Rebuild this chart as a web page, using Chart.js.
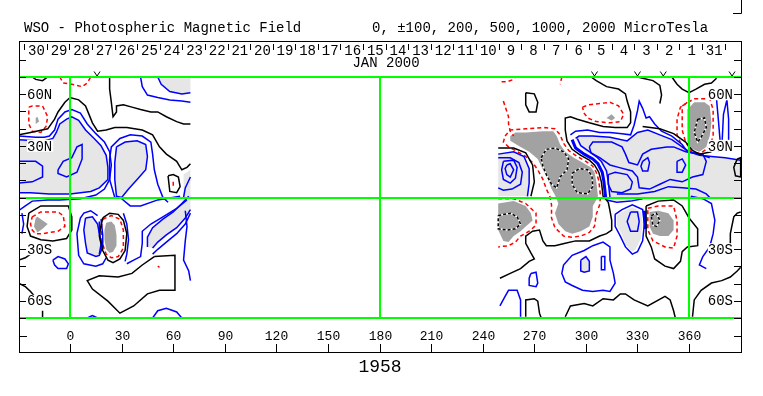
<!DOCTYPE html>
<html>
<head>
<meta charset="utf-8">
<script src="https://cdn.jsdelivr.net/npm/chart.js@4.4.1/dist/chart.umd.min.js"></script>
<style>
html, body { margin: 0; padding: 0; background: #fff; }
canvas { display: block; }
</style>
</head>
<body>
<canvas id="mycanvas" width="763" height="396"></canvas>
<script>
// texts and axis labels
var titleLeft = 'WSO - Photospheric Magnetic Field';
var titleRight = '0, \u00b1100, 200, 500, 1000, 2000 MicroTesla';
var monthLabel = 'JAN 2000';
var rotationLabel = '1958';
var lonTicks = [0, 30, 60, 90, 120, 150, 180, 210, 240, 270, 300, 330, 360];
var latTicks = [100, 85.7, 71.4, 57.1, 42.9, 28.6, 14.3, 0, -14.3, -28.6, -42.9, -57.1, -71.4, -85.7, -100];
var latLabels = ['60N', '30N', '30S', '60S'];
var latLabelPos = [85.7, 42.9, -42.9, -85.7];
var dayLabels = [30, 29, 28, 27, 26, 25, 24, 23, 22, 21, 20, 19, 18, 17, 16, 15, 14, 13, 12, 11, 10, 9, 8, 7, 6, 5, 4, 3, 2, 1, 31];
var dayEdge0 = -26.7;   // carrington longitude of first day box edge
var dayStep = 13.14;    // degrees per day
var obsMarks = [15.7, 305, 330, 345, 385];
var greenLat = [100, 0, -100];
var greenLon = [0, 180, 360];

// contours, [longitude, sine latitude %]
// west block (before the data gap)
var wTopArcBlack = [[-22,100],[-20,98],[-16,97],[-13,100]];
var wTopRed = [[-6,100],[-4,95],[1,94],[7,92],[10,95],[12,100]];
var wRedLoopN = [[-24,75],[-22,76],[-16,76],[-13,67],[-14,59],[-17,54],[-22,55],[-24,61],[-24,67]];
var wSpotN = [[-20,66],[-19,67],[-18,63],[-20,61]];
var wBlackA = [[-30,52],[-23,54],[-13,57],[-9,65],[-7,71],[-3,79],[0,83],[5,81],[9,76],[11,69],[13,62],[16,55],[21,56],[26,58],[33,58],[42,56],[48,52],[52,42],[56,36],[62,30],[65,23],[68,25],[70,28]];
var wBlackB = [[23,100],[23,90],[24,79],[25,67],[27,71],[27,76],[31,77],[36,75],[41,73],[47,71],[51,71],[56,67],[62,63],[66,61],[70,61]];
var wBlueTop1 = [[41,100],[42,92],[45,85],[51,83],[58,81],[65,80],[70,79]];
var wGrayTop = [[51,100],[53,94],[58,88],[65,86],[70,87],[70,100]];
var wGrayNw = [[-30,48],[-20,47],[-15,47],[-10,49],[-8,54],[-6,61],[-2,65],[1,67],[5,64],[9,56],[14,49],[18,43],[21,35],[22,25],[22,15],[17,8],[12,5],[0,3],[-12,3],[-23,4],[-30,4]];
var wBlueNw1 = [[-30,51],[-20,50],[-15,50],[-12,51],[-9,56],[-7,65],[-3,71],[1,73],[6,70],[10,61],[15,53],[20,46],[23,38],[24,27],[23,15],[20,7],[15,2],[6,-1],[-6,-2],[-13,-2],[-22,-3],[-26,-7],[-30,-11]];
var wBlueNw2 = [[-7,23],[-4,30],[1,33],[4,42],[7,44],[7,32],[4,21],[-2,17],[-7,20]];
var wBlueNw3 = [[-30,30],[-20,30],[-16,26],[-16,17],[-22,13],[-30,12]];
var wGrayMid = [[27,42],[32,46],[39,47],[44,44],[45,34],[44,23],[39,15],[34,7],[30,0],[27,1],[26,15],[26,29]];
var wBlueMid = [[26,0],[23,15],[23,32],[24,42],[29,49],[35,52],[42,51],[47,46],[48,36],[49,23],[51,11],[54,0],[57,-4]];
var wBlackHex = [[57,18],[60,19],[63,17],[64,9],[62,4],[58,5]];
var wRedHex = [[60,13],[60,8]];
var wGrayEdge = [[66,19],[70,23],[70,0],[66,0]];
var wBlueEdge = [[66,0],[67,8],[70,17]];
var wBlueLeftS = [[-28,-13],[-27,-22],[-28,-30]];
var wBlackSw1 = [[-24,-13],[-17,-7],[-8,-7],[-1,-7],[1,-16],[1,-27],[-2,-34],[-10,-36],[-17,-35],[-23,-32],[-25,-24]];
var wRedSw1 = [[-22,-16],[-17,-12],[-7,-12],[-4,-15],[-3,-24],[-7,-28],[-16,-30],[-20,-30],[-22,-27],[-23,-22]];
var wDarkSw1 = [[-20,-17],[-19,-16],[-13,-22],[-16,-26],[-19,-29],[-21,-24]];
var wGraySw2 = [[9,-17],[13,-16],[16,-22],[17,-30],[19,-41],[17,-48],[15,-49],[10,-46],[9,-38],[8,-27]];
var wBlueSw2 = [[16,-15],[12,-11],[8,-13],[6,-17],[4,-30],[5,-48],[8,-55],[15,-57],[19,-55],[21,-50]];
var wBlueGap1 = [[17,-20],[17,-28],[18,-39],[17,-47]];
var wBlueGap2 = [[18,-18],[19,-31],[19,-43]];
var wBlackSw3 = [[19,-17],[23,-13],[28,-14],[31,-19],[33,-30],[32,-44],[29,-51],[25,-54],[22,-52],[19,-44],[17,-32],[18,-23]];
var wRedSw3 = [[19,-18],[24,-15],[29,-18],[31,-27],[31,-42],[28,-49],[24,-50],[21,-47],[19,-39],[18,-27]];
var wDarkSw3 = [[21,-21],[24,-20],[26,-23],[27,-31],[27,-40],[25,-45],[23,-46],[21,-43],[20,-35],[20,-27]];
var wBlueSw3 = [[31,-13],[33,-22],[34,-35],[33,-47],[32,-53]];
var wGrayDiag = [[45,-41],[45,-33],[48,-25],[54,-18],[60,-12],[65,-5],[69,1],[70,2],[70,-10],[67,-17],[62,-25],[56,-31],[51,-37],[48,-42]];
var wBlueDiag1 = [[33,-55],[37,-52],[41,-49],[42,-38],[42,-28],[47,-22],[54,-16],[62,-9],[68,-2]];
var wBlueDiag2 = [[70,-13],[67,-22],[62,-30],[56,-37],[51,-43],[48,-47]];
var wBlueEqS = [[30,-1],[35,-7],[41,-7],[51,-2],[64,1]];
var wBlueEdgeS = [[67,-11],[68,-24],[67,-36],[66,-52],[69,-61],[70,-69]];
var wBlackBowl = [[49,-49],[42,-56],[36,-63],[28,-66],[17,-65],[10,-69],[13,-76],[22,-86],[29,-96],[37,-90],[45,-80],[52,-77],[61,-77],[61,-48]];
var wRedDot = [[51,-57],[52,-58]];
var wBlueLoopS = [[-10,-52],[-7,-49],[-3,-51],[-1,-55],[-2,-59],[-7,-59],[-9,-56]];
var wBlueBot1 = [[48,-100],[51,-94],[56,-92],[62,-95],[65,-100]];
var wBlueBot2 = [[10,-100],[13,-98],[16,-100]];
var wBlackEdge1 = [[-30,-52],[-26,-50],[-23,-47]];
var wBlackEdge2 = [[-30,-71],[-26,-74],[-23,-78],[-20,-83]];
var wBlackEdge3 = [[-16,-94],[-16,-100]];

// east block (after the data gap)
var eRedTop = [[251,96],[254,96],[258,98],[259,100]];
var eRedTopV = [[286,100],[285,94]];
var eRedDesc = [[252,80],[255,67],[255,61],[256,55],[258,51]];
var eBlackSmall = [[265,87],[270,86],[272,79],[271,71],[267,71],[265,77]];
var eBlackN1 = [[303,100],[306,97],[312,92],[319,90],[323,86],[324,80],[326,71],[326,62],[324,58],[317,58],[310,59],[302,62],[295,65],[291,67],[288,66],[288,56],[289,47],[292,40],[297,35],[302,31],[305,27],[307.5,21],[309,13],[310,1],[313,-4],[314,-11],[315,-19],[315,-27],[312,-30],[308,-32],[302,-36],[294,-36],[288,-38],[282,-40],[277,-40],[275,-36],[273,-27],[269,-28],[265,-32],[265,-38],[268,-46],[270,-51],[267,-53],[262,-59],[256,-63],[250,-67]];
var eBlackN3 = [[333,59],[343,57],[351,53],[358,46],[362,39],[366,36],[373,38]];
var eBlackTopA = [[330,100],[333,99],[339,97],[343,93],[344,85],[343,78]];
var eBlackTopB = [[350,100],[353,94],[356,90],[360,87],[364,90],[369,94],[373,95],[376,99]];
var eRedLoopN = [[298,75],[302,77],[308,78],[314,79],[319,76],[322,69],[320,63],[314,62],[306,63],[301,66],[299,70]];
var eSpotN = [[312,66],[315,69],[317,66],[315,64]];
var eDarkBig = [[256,51],[259,54],[265,54],[275,55],[281,55],[283,51],[285,44],[288,38],[293,33],[298,29],[303,25],[305,21],[306,14],[307,1],[306,-2],[304,-7],[304,-16],[302,-24],[297,-28],[292,-30],[288,-28],[284,-22],[282,-13],[284,-5],[282,2],[280,7],[278,15],[275,23],[272,32],[267,38],[262,42],[256,47]];
var eRedBig = [[253,51],[256,56],[265,57],[276,58],[282,57],[285,52],[287,45],[290,39],[295,34],[300,30],[304,26],[306,21],[307.5,14],[308.5,1],[308,-6],[306,-14],[305,-24],[302,-29],[297,-32],[292,-33],[287,-32],[282,-25],[280,-17],[280,-6],[279,1],[277,7],[275,15],[272,23],[269,29],[265,34],[259,39],[255,42],[252,46]];
var eDashA = [[274,33],[277,40],[282,41],[287,38],[290,32],[289,23],[285,17],[283,8],[280,11],[277,19],[275,26]];
var eDashB = [[292,20],[296,24],[301,23],[303.5,18],[304,9],[301,3],[295,4],[292,11]];
var eGrayW = [[249,36],[258,38],[264,34],[267,24],[267,12],[266,1],[249,1]];
var eBlackW = [[249,41],[258,41],[265,37],[269,27],[270,13],[268,1]];
var eBlueW1 = [[249,33],[256,33],[261,29],[263,21],[262,11],[257,7],[252,6],[249,8]];
var eBlueW2 = [[252,30],[258,31],[260,25],[259,16],[256,12],[252,15],[251,23]];
var eBlueW3 = [[254,27],[256,28],[258,23],[256,17],[254,19],[253,24]];
var eGrayC = [[294,49],[296,51],[304,51],[314,50],[324,47],[330,54],[336,56],[343,52],[350,48],[356,42],[360,38],[366,35],[373,34],[381,33],[390,31],[390,0],[314,0],[313,12],[311,22],[308,30],[305,34],[300,38],[296,44]];
var eBlueC1 = [[291,52],[294,55],[301,56],[308,54],[314,54],[321,53],[326,52],[328,60],[330,72],[331,80],[333,74],[335,66],[337,67],[340,61],[344,55],[350,51],[356,44],[359,38],[366,36],[372,33]];
var eBlueC3 = [[292,48],[294,41],[299,36],[304,32],[307,28],[309.5,21],[310.5,13],[311.5,0]];
var eBlueC4 = [[295,49],[297,43],[302,38],[306,34],[309,30],[312,22],[313,13],[314,0]];
var eBlueC5 = [[302,42],[304,46],[310,46],[315,46],[321,42],[323,36],[325,29],[330,27],[333,36],[338,40],[347,42],[351,42],[358,38],[368,36],[370,30],[368,19],[362,17],[356,13],[349,15],[343,11],[337,7],[331,8],[330,17],[327,22],[319,25],[314,27],[308,33],[303,37]];
var eBlueL1 = [[313,19],[317,21],[324,19],[327,13],[326,7],[321,4],[315,5],[313,11]];
var eBlueL2 = [[333,30],[336,33],[337,29],[336,22],[333,22],[332,26]];
var eBlueL3 = [[353,30],[356,32],[358,27],[356,21],[353,21],[353,25]];
var eBlueBot = [[318,3],[330,3],[340,5],[348,9],[356,8],[364,7],[370,3],[372,0]];
var eDarkNE = [[359,73],[363,79],[369,79],[372,76],[373,62],[372,51],[370,42],[366,38],[362,40],[359,46],[359,54],[359,65]];
var eRedNE = [[356,76],[363,82],[372,82],[374,73],[374,51],[372,42],[367,37],[362,37],[358,46],[356,56],[356,67]];
var eRedNE2 = [[359,79],[355,75],[353,65],[353,52],[356,42],[361,37]];
var eDashNE = [[365,65],[369,66],[370,58],[367,50],[365,46],[363,54]];
var eBlueNE1 = [[376,81],[377,65],[378,48],[377,38]];
var eBlueNE2 = [[379,40],[380,69],[382,81],[383,65],[383,40]];
var eBlackE = [[388,32],[390,33],[390,17],[387,18],[386,25]];
var eDarkSW = [[249,-5],[258,-3],[265,-7],[268,-13],[269,-19],[265,-24],[262,-28],[258,-32],[255,-37],[252,-36],[249,-27]];
var eDashSW = [[249,-15],[256,-13],[260,-16],[262,-22],[259,-26],[254,-27],[249,-26]];
var eRedSW = [[249,-1],[258,-1],[265,-5],[271,-13],[271,-23],[267,-28],[262,-32],[259,-37],[255,-40],[249,-41]];
var eBlueLoopS = [[287,-56],[292,-48],[299,-44],[304,-40],[310,-37],[314,-41],[314,-52],[316,-63],[317,-71],[314,-78],[310,-77],[304,-78],[298,-77],[292,-73],[288,-70],[286,-63]];
var eGrayS = [[297,-52],[300,-49],[302,-53],[302,-61],[299,-62],[297,-61]];
var eBlueSthin = [[309,-49],[311,-49],[311,-60],[309,-60]];
var eBlueSsmall = [[268,-63],[271,-62],[272,-71],[271,-74],[267,-73],[267,-67]];
var eBlueSWb = [[250,-90],[253,-82],[255,-77],[260,-77],[262,-85],[262,-99]];
var eBlackSb1 = [[265,-99],[265,-85],[270,-84],[272,-86],[273,-96],[274,-100]];
var eBlackSb2 = [[288,-99],[291,-90],[299,-88],[304,-90],[310,-84],[316,-85],[320,-80],[323,-80],[328,-85],[336,-90],[346,-82],[349,-85],[351,-94],[352,-100]];
var eBlackSE = [[335,-7],[342,-3],[351,-2],[356,-7],[360,-17],[365,-26],[365,-40],[359,-41],[356,-45],[355,-53],[351,-59],[346,-57],[340,-51],[338,-41],[335,-32],[335,-22]];
var eRedSE = [[336,-9],[342,-7],[351,-7],[353,-19],[353,-32],[351,-42],[346,-41],[339,-36],[336,-27],[336,-17]];
var eDarkSE = [[337,-12],[342,-11],[348,-13],[351,-19],[351,-27],[348,-32],[343,-32],[339,-30],[337,-24],[337,-17]];
var eDashSE = [[338,-15],[341,-13],[343,-19],[341,-24],[339,-23]];
var eGraySE = [[321,-12],[327,-8],[332,-12],[333,-22],[332,-34],[329,-43],[327,-45],[323,-39],[321,-31],[318,-23],[318,-15]];
var eBlueSE1 = [[317,-14],[321,-10],[327,-6],[333,-10],[334,-22],[333,-36],[330,-45],[327,-47],[323,-41],[320,-32],[317,-24]];
var eBlueSE2 = [[326,-12],[330,-12],[331,-20],[330,-28],[326,-28],[324,-20]];
var eBlueSEthick = [[334,-11],[334.5,-26]];
var eBlueSEright = [[361,1],[368,-1],[373,-5],[375,-19],[374,-30],[372,-41],[368,-49],[366,-56],[370,-59]];
var eBlueEqS = [[312,-2],[318,-4],[326,-3],[333,-1]];
var eBlackEr1 = [[384,-44],[384,-30],[386,-16],[388,-13],[390,-12]];
var eBlackEr2 = [[362,-99],[363,-85],[367,-77],[373,-71],[379,-69],[384,-66],[388,-61],[390,-58]];

var BLACK = '#000000', BLUE = '#0000ff', RED = '#ff0000', LIGHT = '#e6e6e6', DARK = '#a2a2a2';
var DASH = [4, 3];

var datasets = [];
function pts(a, close) {
	var out = a.map(function (p) { return { x: p[0], y: p[1] }; });
	if (close) out.push({ x: a[0][0], y: a[0][1] });
	return out;
}
function addFill(a, color, order) {
	datasets.push({ data: pts(a, true), fill: 'shape', backgroundColor: color, borderColor: 'rgba(0,0,0,0)', borderWidth: 0, pointRadius: 0, order: order });
}
function addLine(a, color, close, dash, width, order) {
	datasets.push({ data: pts(a, close), fill: false, borderColor: color, borderWidth: width || 1.5, borderDash: dash || [], pointRadius: 0, order: order === undefined ? 2 : order });
}
function addInner(a) {
	// white / black dashed inner contour
	addLine(a, '#ffffff', true, [], 1.5, 1);
	addLine(a, BLACK, true, [3, 2], 1.5, 0);
}

// light fills
[wGrayTop, wGrayNw, wGrayMid, wGrayEdge, wGraySw2, wGrayDiag, eGrayW, eGrayC, eGrayS, eGraySE].forEach(function (g) { addFill(g, LIGHT, 5); });
// dark fills
[wSpotN, wDarkSw1, wDarkSw3, eSpotN, eDarkBig, eDarkNE, eDarkSW, eDarkSE].forEach(function (g) { addFill(g, DARK, 4); });

// black contours
[wTopArcBlack, wBlackA, wBlackB, wBlackEdge1, wBlackEdge2, wBlackEdge3, eBlackN1, eBlackN3, eBlackTopA, eBlackTopB, eBlackSb1, eBlackSb2, eBlackEr1, eBlackEr2].forEach(function (l) { addLine(l, BLACK, false); });
[wBlackHex, wBlackSw1, wBlackSw3, wBlackBowl, eBlackSmall, eBlackE, eBlackSE].forEach(function (l) { addLine(l, BLACK, true); });
addLine(eBlackW, BLACK, false);

// blue contours
[wBlueTop1, wGrayTop.slice(0, 5), wGrayNw, wBlueNw1, wBlueNw3, wBlueMid, wBlueEdge, wBlueLeftS, wBlueSw2, wBlueGap1, wBlueGap2, wBlueSw3, wBlueDiag1, wBlueDiag2, wBlueEqS, wBlueEdgeS, wBlueBot1, wBlueBot2,
 eGrayW.slice(0, 6), eBlueW1, eGrayC.slice(0, 15), eBlueC1, eBlueC4, eBlueBot, eBlueNE1, eBlueNE2, eBlueSWb, eBlueSEright, eBlueEqS].forEach(function (l) { addLine(l, BLUE, false); });
addLine(wGrayDiag.slice(0, 7), BLUE, false);
addLine(wGrayDiag.slice(8), BLUE, false);
[wBlueNw2, wGrayMid, wGraySw2, wBlueLoopS, eBlueW2, eBlueW3, eBlueC5, eBlueL1, eBlueL2, eBlueL3, eBlueLoopS, eGrayS, eBlueSthin, eBlueSsmall, eBlueSE1, eBlueSE2].forEach(function (l) { addLine(l, BLUE, true); });
addLine(eBlueC3, BLUE, false, [], 3);
addLine(eBlueSEthick, BLUE, false, [], 3);

// red contours
[wTopRed, wRedHex, wRedDot, eRedTop, eRedTopV, eRedDesc, eRedNE2, eRedSW].forEach(function (l) { addLine(l, RED, false, DASH); });
[wRedLoopN, wRedSw1, wRedSw3, eRedLoopN, eRedBig, eRedNE, eRedSE].forEach(function (l) { addLine(l, RED, true, DASH); });

// inner strong-field contours
[eDashA, eDashB, eDashNE, eDashSW, eDashSE].forEach(addInner);

var MONO = '"Liberation Mono", "DejaVu Sans Mono", monospace';

var wsoFrame = {
	id: 'wsoFrame',
	afterDatasetsDraw: function (chart) {
		var c = chart.ctx, xs = chart.scales.x, ys = chart.scales.y, a = chart.chartArea;
		var L = a.left, R = a.right, T = a.top, B = a.bottom;
		var boxTop = 41, boxBottom = 352;
		c.save();

		// green reference lines
		c.strokeStyle = '#00ff00';
		c.lineWidth = 2;
		greenLat.forEach(function (v) {
			var py = Math.round(ys.getPixelForValue(v));
			c.beginPath(); c.moveTo(L, py); c.lineTo(R, py); c.stroke();
		});
		greenLon.forEach(function (v) {
			var px = Math.round(xs.getPixelForValue(v));
			c.beginPath(); c.moveTo(px, T); c.lineTo(px, B); c.stroke();
		});

		// frame
		c.strokeStyle = BLACK;
		c.lineWidth = 1;
		c.strokeRect(L + 0.5, boxTop + 0.5, R - L, boxBottom - boxTop);
		c.beginPath(); c.moveTo(R + 0.5, 0); c.lineTo(R + 0.5, 13.5); c.lineTo(R - 8, 13.5); c.stroke();

		// titles
		c.fillStyle = BLACK;
		c.font = '14px ' + MONO;
		c.textAlign = 'left';
		c.textBaseline = 'alphabetic';
		c.fillText(titleLeft, 24, 32);
		c.fillText(titleRight, 372, 32);

		// day strip
		c.textAlign = 'center';
		for (var i = 0; i <= dayLabels.length; i++) {
			var ex = Math.round(xs.getPixelForValue(dayEdge0 + i * dayStep)) + 0.5;
			c.beginPath(); c.moveTo(ex, 44); c.lineTo(ex, 50); c.stroke();
			if (i < dayLabels.length) {
				var cx = xs.getPixelForValue(dayEdge0 + (i + 0.5) * dayStep);
				c.fillText(String(dayLabels[i]), cx + 1, 55);
			}
		}
		c.fillText(monthLabel, 386, 67);
		c.beginPath(); c.moveTo(L, 60.5); c.lineTo(L + 7, 60.5); c.moveTo(R - 7, 60.5); c.lineTo(R, 60.5); c.stroke();

		// observation marks
		obsMarks.forEach(function (v) {
			var px = xs.getPixelForValue(v);
			c.beginPath(); c.moveTo(px - 3, 71.5); c.lineTo(px, 76); c.lineTo(px + 3, 71.5); c.stroke();
		});

		// latitude ticks and labels
		latTicks.forEach(function (v) {
			var py = Math.round(ys.getPixelForValue(v)) + 0.5;
			c.beginPath(); c.moveTo(L, py); c.lineTo(L + 7, py); c.moveTo(R - 7, py); c.lineTo(R, py); c.stroke();
		});
		c.textBaseline = 'middle';
		latLabels.forEach(function (t, k) {
			var py = ys.getPixelForValue(latLabelPos[k]);
			var w = c.measureText(t).width;
			c.fillStyle = '#ffffff';
			c.fillRect(27, py - 6, w + 1, 12);
			c.fillRect(R - 8 - w, py - 6, w + 1, 12);
			c.fillStyle = BLACK;
			c.textAlign = 'left'; c.fillText(t, 27, py + 1);
			c.textAlign = 'right'; c.fillText(t, R - 8, py + 1);
		});

		// longitude axis
		c.font = '13px ' + MONO;
		c.textAlign = 'center';
		lonTicks.forEach(function (v) {
			var px = Math.round(xs.getPixelForValue(v)) + 0.5;
			c.beginPath(); c.moveTo(px, boxBottom - 8); c.lineTo(px, boxBottom); c.stroke();
			c.fillText(String(v), px, 337);
		});
		c.beginPath(); c.moveTo(L, 336.5); c.lineTo(L + 8, 336.5); c.moveTo(R - 7, 336.5); c.lineTo(R, 336.5); c.stroke();
		c.font = '18px ' + MONO;
		c.fillText(rotationLabel, 380, 367);
		c.restore();
	}
};

var ctx = document.getElementById('mycanvas').getContext('2d');
var magChart = new Chart(ctx, {
	type: 'line',
	data: { datasets: datasets },
	options: {
		responsive: false,
		animation: false,
		devicePixelRatio: 1,
		events: [],
		layout: { padding: { left: 19, right: 22, top: 77, bottom: 78 } },
		scales: {
			x: { type: 'linear', min: -29.7, max: 390.2, display: false },
			y: { type: 'linear', min: -100, max: 100, display: false }
		},
		elements: { point: { radius: 0 }, line: { tension: 0 } },
		plugins: { legend: { display: false }, tooltip: { enabled: false } }
	},
	plugins: [wsoFrame]
});
</script>
</body>
</html>
